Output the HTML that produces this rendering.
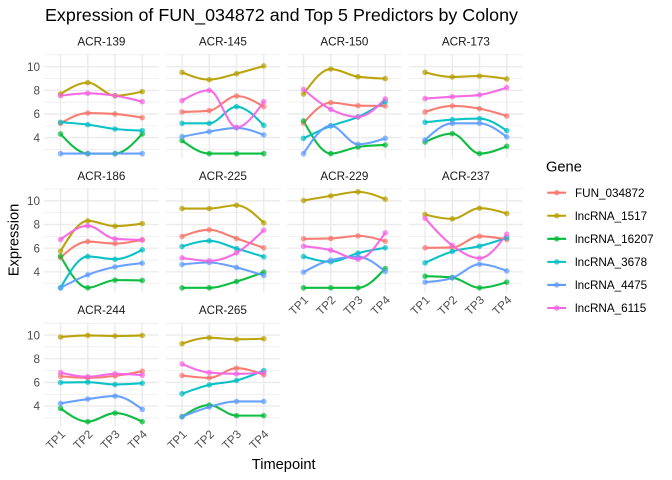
<!DOCTYPE html>
<html>
<head>
<meta charset="utf-8">
<style>
  html, body { margin: 0; padding: 0; background: #ffffff; }
  svg { display: block; }
  text { font-family: "Liberation Sans", Arial, sans-serif; }
</style>
</head>
<body>
<svg id="chart" width="672" height="480" viewBox="0 0 672 480" xmlns="http://www.w3.org/2000/svg">
  <rect x="0" y="0" width="672" height="480" fill="#ffffff"/>
  <g id="grid"></g>
  <g id="series"></g>

  <!-- Title -->
  <text x="45" y="20.8" font-size="17.8" fill="#000000" textLength="473" lengthAdjust="spacingAndGlyphs">Expression of FUN_034872 and Top 5 Predictors by Colony</text>

  <!-- Strip labels -->
  <g font-size="11.7" fill="#1A1A1A" text-anchor="middle">
    <text x="101.4" y="45.7">ACR-139</text>
    <text x="222.9" y="45.7">ACR-145</text>
    <text x="344.4" y="45.7">ACR-150</text>
    <text x="465.9" y="45.7">ACR-173</text>
    <text x="101.4" y="179.9">ACR-186</text>
    <text x="222.9" y="179.9">ACR-225</text>
    <text x="344.4" y="179.9">ACR-229</text>
    <text x="465.9" y="179.9">ACR-237</text>
    <text x="101.4" y="314.1">ACR-244</text>
    <text x="222.9" y="314.1">ACR-265</text>
  </g>

  <!-- Y axis tick labels -->
  <g font-size="11.7" fill="#4D4D4D" text-anchor="end">
    <text x="40" y="70.9">10</text>
    <text x="40" y="94.5">8</text>
    <text x="40" y="118.2">6</text>
    <text x="40" y="141.8">4</text>
    <text x="40" y="205.1">10</text>
    <text x="40" y="228.7">8</text>
    <text x="40" y="252.4">6</text>
    <text x="40" y="276.0">4</text>
    <text x="40" y="339.3">10</text>
    <text x="40" y="362.9">8</text>
    <text x="40" y="386.6">6</text>
    <text x="40" y="410.2">4</text>
  </g>

  <!-- X axis tick labels -->
  <g font-size="11.7" fill="#4D4D4D" text-anchor="end">
    <text transform="translate(66.0,434.9) rotate(-45)">TP1</text>
    <text transform="translate(93.3,434.9) rotate(-45)">TP2</text>
    <text transform="translate(120.5,434.9) rotate(-45)">TP3</text>
    <text transform="translate(147.8,434.9) rotate(-45)">TP4</text>
    <text transform="translate(187.5,434.9) rotate(-45)">TP1</text>
    <text transform="translate(214.8,434.9) rotate(-45)">TP2</text>
    <text transform="translate(242.0,434.9) rotate(-45)">TP3</text>
    <text transform="translate(269.3,434.9) rotate(-45)">TP4</text>
    <text transform="translate(309.0,300.7) rotate(-45)">TP1</text>
    <text transform="translate(336.3,300.7) rotate(-45)">TP2</text>
    <text transform="translate(363.5,300.7) rotate(-45)">TP3</text>
    <text transform="translate(390.8,300.7) rotate(-45)">TP4</text>
    <text transform="translate(430.5,300.7) rotate(-45)">TP1</text>
    <text transform="translate(457.8,300.7) rotate(-45)">TP2</text>
    <text transform="translate(485.0,300.7) rotate(-45)">TP3</text>
    <text transform="translate(512.3,300.7) rotate(-45)">TP4</text>
  </g>

  <!-- Axis titles -->
  <text x="283.7" y="469" font-size="14.67" fill="#000000" text-anchor="middle">Timepoint</text>
  <text transform="translate(18.3,240) rotate(-90)" font-size="14.67" fill="#000000" text-anchor="middle">Expression</text>

  <!-- Legend -->
  <text x="546" y="171.5" font-size="14.67" fill="#000000">Gene</text>
  <g id="legendkeys"></g>
  <g font-size="11.7" fill="#000000">
    <text x="575" y="196.9">FUN_034872</text>
    <text x="575" y="219.9">lncRNA_1517</text>
    <text x="575" y="243.0">lncRNA_16207</text>
    <text x="575" y="266.1">lncRNA_3678</text>
    <text x="575" y="289.1">lncRNA_4475</text>
    <text x="575" y="312.2">lncRNA_6115</text>
  </g>
</svg>

<script>
(function(){
  var NS = "http://www.w3.org/2000/svg";
  var colors = ["#F8766D","#B79F00","#00BA38","#00BFC4","#619CFF","#F564E3"];
  var panels = [
    [0,0,[[5.21,6.08,6.00,5.69],[7.69,8.65,7.55,7.89],[4.31,2.65,2.65,4.31],[5.30,5.10,4.73,4.59],[2.65,2.65,2.65,2.65],[7.55,7.75,7.55,7.04]]],
    [1,0,[[6.17,6.28,7.52,6.62],[9.52,8.90,9.41,10.06],[3.75,2.65,2.65,2.65],[5.21,5.21,6.62,5.04],[4.08,4.51,4.82,4.23],[7.13,8.00,4.87,7.04]]],
    [2,0,[[5.24,6.96,6.70,6.68],[7.69,9.80,9.15,8.99],[5.41,2.65,3.21,3.38],[3.94,4.99,5.75,7.04],[2.65,5.01,3.44,3.94],[8.08,6.39,5.75,7.27]]],
    [3,0,[[6.17,6.68,6.45,5.83],[9.52,9.13,9.21,8.96],[3.63,4.34,2.65,3.27],[5.30,5.52,5.61,4.59],[3.80,5.21,5.21,4.06],[7.30,7.46,7.61,8.23]]],
    [0,1,[[5.21,6.56,6.39,6.70],[5.75,8.31,7.86,8.08],[5.32,2.65,3.30,3.27],[2.65,5.30,5.07,5.86],[2.65,3.75,4.42,4.73],[6.73,7.89,6.79,6.70]]],
    [1,1,[[6.99,7.55,6.82,6.03],[9.35,9.35,9.63,8.14],[2.65,2.65,3.18,3.97],[6.14,6.62,5.97,5.27],[4.62,4.79,4.37,3.69],[5.18,4.93,5.61,7.52]]],
    [2,1,[[6.79,6.82,7.04,6.59],[10.03,10.42,10.76,10.14],[2.65,2.65,2.65,4.28],[5.30,4.85,5.58,6.03],[3.97,4.99,5.27,4.03],[6.17,5.83,5.07,7.30]]],
    [3,1,[[6.03,6.06,7.01,6.73],[8.85,8.48,9.38,8.93],[3.63,3.52,2.65,3.13],[4.76,5.72,6.17,6.87],[3.13,3.49,4.65,4.08],[8.54,6.23,5.15,7.18]]],
    [0,2,[[6.52,6.38,6.55,6.94],[9.83,9.97,9.92,9.97],[3.80,2.68,3.41,2.68],[5.99,6.02,5.82,5.93],[4.22,4.59,4.84,3.72],[6.83,6.47,6.72,6.61]]],
    [1,2,[[6.58,6.38,7.20,6.64],[9.27,9.78,9.64,9.69],[3.10,4.08,3.19,3.19],[5.04,5.79,6.16,7.00],[3.10,3.92,4.39,4.39],[7.56,6.83,6.72,6.83]]]
  ];
  var L0 = 44.2, colStep = 121.5, W = 114.4;
  var T0 = 54.0, rowStep = 134.2, H = 104.0;
  var vTop = 11.07, pxu = 11.83;
  var step = W / 4.2;
  var grid = document.getElementById("grid");
  var series = document.getElementById("series");

  function el(name, attrs, parent){
    var e = document.createElementNS(NS, name);
    for (var k in attrs) e.setAttribute(k, attrs[k]);
    parent.appendChild(e);
    return e;
  }
  function sgn(v){ return v > 0 ? 1 : (v < 0 ? -1 : 0); }

  function monoPath(xs, ys){
    var n = xs.length, m = [], i;
    var h = xs[1] - xs[0];
    for (i = 1; i < n - 1; i++){
      var s0 = (ys[i] - ys[i-1]) / h, s1 = (ys[i+1] - ys[i]) / h;
      var p = (s0 + s1) / 2;
      m[i] = (sgn(s0) + sgn(s1)) * Math.min(Math.abs(s0), Math.abs(s1), 0.5 * Math.abs(p)) || 0;
    }
    m[0] = (3 * (ys[1] - ys[0]) / h - m[1]) / 2;
    m[n-1] = (3 * (ys[n-1] - ys[n-2]) / h - m[n-2]) / 2;
    var d = "M" + xs[0].toFixed(2) + "," + ys[0].toFixed(2);
    for (i = 0; i < n - 1; i++){
      var dx = h / 3;
      d += " C" + (xs[i] + dx).toFixed(2) + "," + (ys[i] + dx * m[i]).toFixed(2) + " " +
           (xs[i+1] - dx).toFixed(2) + "," + (ys[i+1] - dx * m[i+1]).toFixed(2) + " " +
           xs[i+1].toFixed(2) + "," + ys[i+1].toFixed(2);
    }
    return d;
  }

  panels.forEach(function(pn){
    var c = pn[0], r = pn[1], data = pn[2];
    var L = L0 + c * colStep, T = T0 + r * rowStep;
    function Y(v){ return T + (vTop - v) * pxu; }
    var xs = [0,1,2,3].map(function(k){ return L + 0.6 * step + k * step; });
    [3,5,7,9,11].forEach(function(v){
      var y = Y(v);
      if (y >= T - 0.5 && y <= T + H) el("line", {x1:L, x2:L+W, y1:y, y2:y, stroke:"#EBEBEB", "stroke-width":0.71}, grid);
    });
    [4,6,8,10].forEach(function(v){
      var y = Y(v);
      el("line", {x1:L, x2:L+W, y1:y, y2:y, stroke:"#EBEBEB", "stroke-width":1.42}, grid);
    });
    xs.forEach(function(x){
      el("line", {x1:x, x2:x, y1:T, y2:T+H, stroke:"#EBEBEB", "stroke-width":1.42}, grid);
    });
    data.forEach(function(vals, si){
      var ys = vals.map(Y);
      el("path", {d: monoPath(xs, ys), fill:"none", stroke: colors[si], "stroke-width":2.1,
                  "stroke-linecap":"butt", "stroke-linejoin":"round", "stroke-opacity":0.95}, series);
    });
    data.forEach(function(vals, si){
      vals.forEach(function(v, k){
        el("circle", {cx: xs[k], cy: Y(v), r: 2.8, fill: colors[si], "fill-opacity":0.7}, series);
      });
    });
  });

  var lk = document.getElementById("legendkeys");
  colors.forEach(function(col, i){
    var y = 192.7 + i * 23.06;
    el("line", {x1:547.3, x2:566, y1:y, y2:y, stroke: col, "stroke-width":2.1}, lk);
    el("circle", {cx:556.7, cy:y, r:2.8, fill: col, "fill-opacity":0.7}, lk);
  });
})();
</script>
</body>
</html>
